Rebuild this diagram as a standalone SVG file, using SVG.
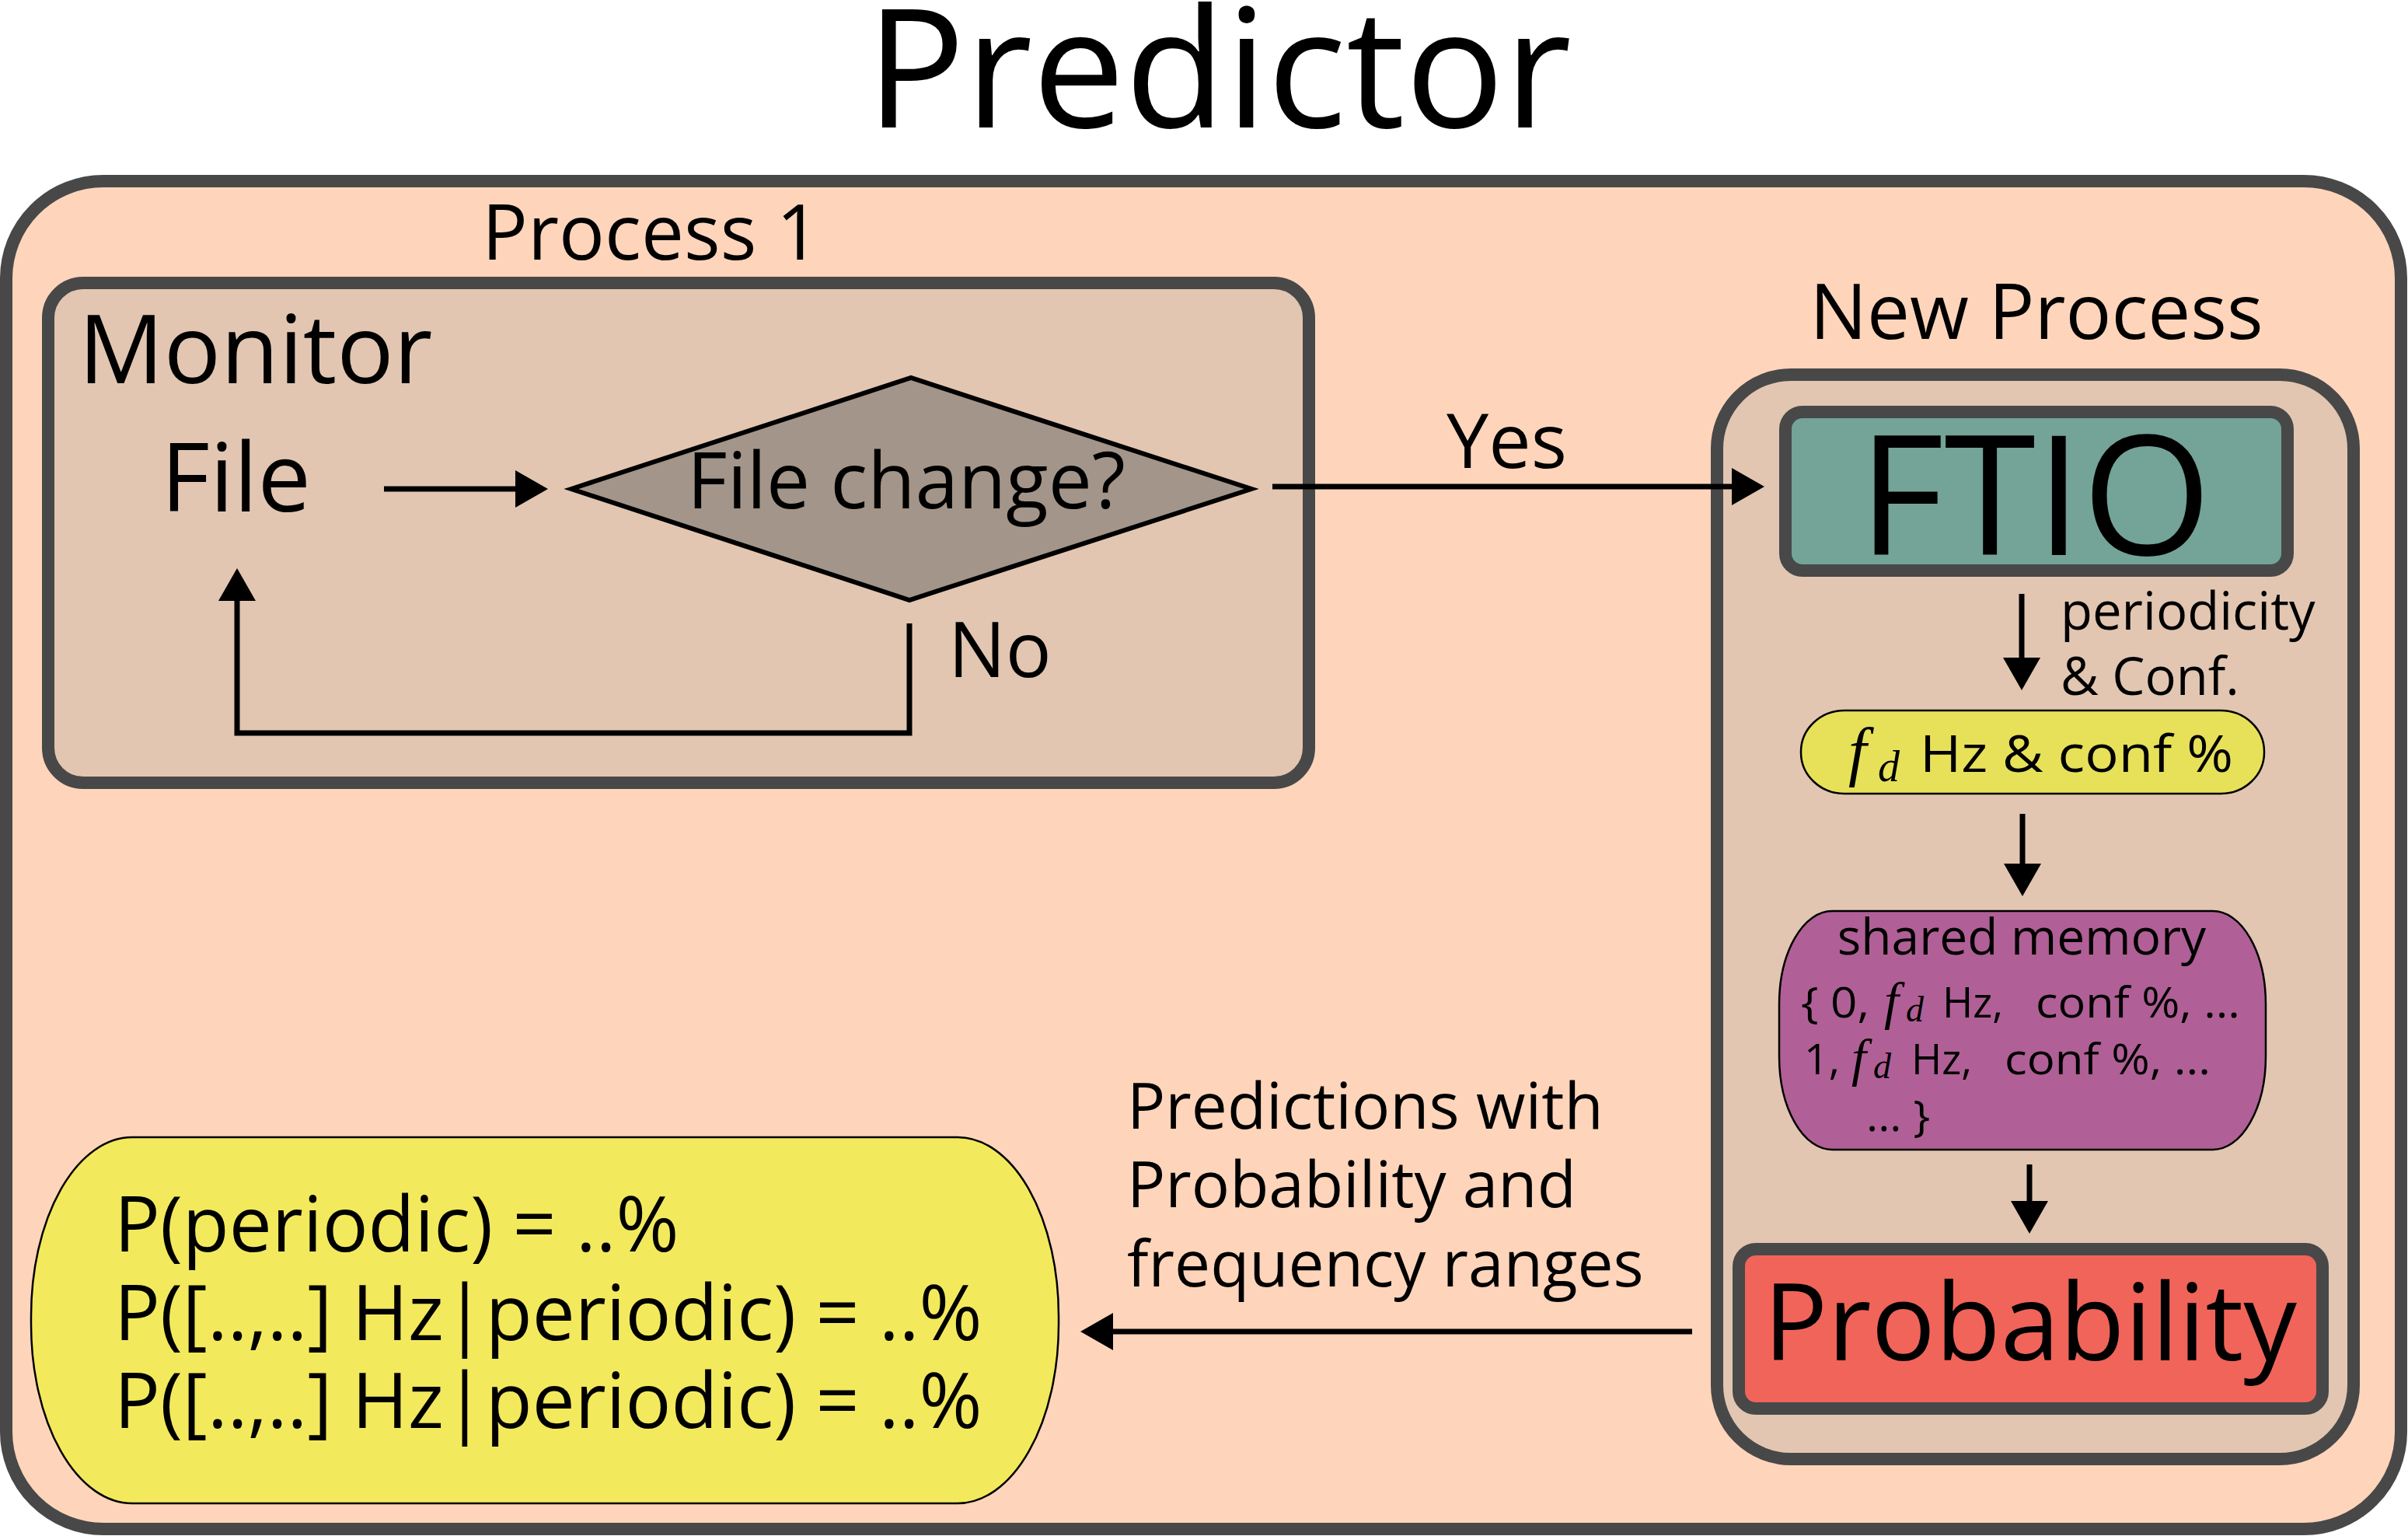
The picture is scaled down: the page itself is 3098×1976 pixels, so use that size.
<svg xmlns="http://www.w3.org/2000/svg" width="3098" height="1976" viewBox="0 0 3098 1976">
<style>
text{font-family:"Open Sans","Noto Sans","DejaVu Sans",sans-serif;fill:#000}
.math{font-family:"Liberation Serif","DejaVu Serif",serif;font-style:italic}
.frame{stroke:#484848;stroke-width:16}
.conn{fill:none;stroke:#000;stroke-width:7}
.thin{stroke:#000;stroke-width:2.5}
</style>
<defs>
<marker id="ah" markerUnits="userSpaceOnUse" markerWidth="42" markerHeight="48" viewBox="0 0 42 48" refX="1" refY="24" orient="auto">
<path d="M0,0 L42,24 L0,48 z" fill="#000"/>
</marker>
</defs>
<rect width="3098" height="1976" fill="#fff"/>
<text x="1568" y="164" font-size="212" text-anchor="middle">Predictor</text>
<g id="predictor">
<rect class="frame" x="8" y="233" width="3081" height="1734" rx="125" ry="125" fill="#fed5bb"/>
</g>
<text x="620" y="334" font-size="98">Process 1</text>
<g id="monitor">
<rect class="frame" x="62" y="364" width="1622" height="643" rx="45" fill="#e2c6b1"/>
<text x="101" y="493" font-size="122">Monitor</text>
</g>
<g id="file">
<text x="207" y="658" font-size="122">File</text>
</g>
<g id="decision">
<polygon points="735,629 1172,486 1610,629 1170,772" fill="#a39589" stroke="#000" stroke-width="6"/>
<text x="1166" y="654" font-size="100" text-anchor="middle">File change?</text>
</g>
<text x="2620" y="436" font-size="98" text-anchor="middle">New Process</text>
<g id="newprocess">
<rect class="frame" x="2209" y="482" width="819" height="1395" rx="95" fill="#e2c6b1"/>
</g>
<g id="ftio">
<rect class="frame" x="2297" y="530" width="646" height="204" rx="22" fill="#74a398"/>
<text x="2618" y="714" font-size="214" text-anchor="middle">FTIO</text>
</g>
<g id="freq">
<rect class="thin" x="2317" y="914" width="596" height="107" rx="56" ry="53" fill="#e6e159"/>
<text class="math" x="2378" y="995" font-size="84">f</text>
<text class="math" x="2416" y="1005" font-size="56">d</text>
<text x="2470" y="993" font-size="66" textLength="403" lengthAdjust="spacingAndGlyphs">Hz &amp; conf %</text>
</g>
<g id="sharedmemory">
<rect class="thin" x="2289" y="1172" width="626" height="307" rx="68" ry="120" fill="#b06096"/>
<text x="2601" y="1228" font-size="64" text-anchor="middle">shared memory</text>
<text x="2317" y="1309" font-size="54" textLength="88" lengthAdjust="spacingAndGlyphs">{ 0,</text>
<text class="math" x="2424" y="1311" font-size="68">f</text>
<text class="math" x="2452" y="1314" font-size="46">d</text>
<text x="2499" y="1309" font-size="54" textLength="78" lengthAdjust="spacingAndGlyphs">Hz,</text>
<text x="2619" y="1309" font-size="54" textLength="263" lengthAdjust="spacingAndGlyphs">conf %, ...</text>
<text x="2321" y="1382" font-size="54" textLength="46" lengthAdjust="spacingAndGlyphs">1,</text>
<text class="math" x="2382" y="1384" font-size="68">f</text>
<text class="math" x="2410" y="1387" font-size="46">d</text>
<text x="2459" y="1382" font-size="54" textLength="78" lengthAdjust="spacingAndGlyphs">Hz,</text>
<text x="2579" y="1382" font-size="54" textLength="265" lengthAdjust="spacingAndGlyphs">conf %, ...</text>
<text x="2401" y="1455" font-size="54" textLength="82" lengthAdjust="spacingAndGlyphs">... }</text>
</g>
<g id="probability">
<rect class="frame" x="2237" y="1607" width="751" height="205" rx="22" fill="#f1645a"/>
<text x="2612" y="1750" font-size="137" text-anchor="middle">Probability</text>
</g>
<g id="results">
<rect class="thin" x="40" y="1463" width="1322" height="471" rx="130" ry="230" fill="#f3e95d"/>
<text x="147" y="1610" font-size="98">P(periodic) = ..%</text>
<text x="147" y="1724" font-size="98">P([..,..] Hz|periodic) = ..%</text>
<text x="147" y="1837" font-size="98">P([..,..] Hz|periodic) = ..%</text>
</g>
<g id="connectors">
<path class="conn" d="M494,629 H664" marker-end="url(#ah)"/>
<path class="conn" d="M1637,626 H2229" marker-end="url(#ah)"/>
<text x="1861" y="602" font-size="97">Yes</text>
<path class="conn" d="M1170,802 V943 H305 V772" marker-end="url(#ah)"/>
<text x="1220" y="871" font-size="98">No</text>
<path class="conn" d="M2601,764 V847" marker-end="url(#ah)"/>
<text x="2651" y="810" font-size="67">periodicity</text>
<text x="2651" y="894" font-size="67">&amp; Conf.</text>
<path class="conn" d="M2602,1047 V1112" marker-end="url(#ah)"/>
<path class="conn" d="M2611,1498 V1546" marker-end="url(#ah)"/>
<path class="conn" d="M2177,1713 H1431" marker-end="url(#ah)"/>
<text x="1450" y="1452" font-size="82">Predictions with</text>
<text x="1450" y="1553" font-size="82">Probability and</text>
<text x="1450" y="1655" font-size="82">frequency ranges</text>
</g>
</svg>
